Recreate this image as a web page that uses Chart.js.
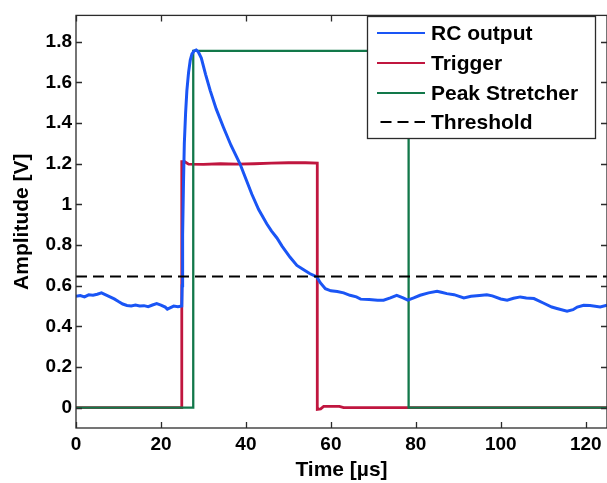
<!DOCTYPE html>
<html>
<head>
<meta charset="utf-8">
<script src="https://cdn.jsdelivr.net/npm/chart.js@4"></script>
<style>
  html, body { margin: 0; padding: 0; background: #fff; }
  #wrap { width: 607px; height: 483px; overflow: hidden; }
</style>
</head>
<body>
<div id="wrap"><canvas id="pulseChart" width="607" height="483"></canvas></div>
<script>
'use strict';

/** RC output / trigger / peak stretcher traces */

const rcTime = [0, 1, 2, 3, 4, 5, 6, 7, 8, 9, 10, 11, 12, 13, 14, 15, 16, 17, 18, 19, 20, 21, 21.5, 22, 23, 24, 24.9,
    25.0, 25.1, 25.3, 25.5, 25.8, 26.1, 26.5, 26.9, 27.3, 27.8, 28.3, 28.8,
    29.5, 30.5, 31.6, 33, 34.7, 36.5, 38.6, 40, 41.4, 43, 44.9, 46, 47.3, 48.5, 50.4, 52, 53.5, 55, 56.7, 57.5,
    58.7, 60, 61.5, 63, 64.5, 66, 67, 69, 71, 72.4, 74, 75.5, 77, 78.1, 79.5, 81, 83, 85, 86, 87.3,
    89, 91.3, 93, 95, 96.7, 98, 100, 101.5, 103, 104.6, 106, 107.8, 110, 112, 113.2, 115.6, 117, 118, 119.5, 121,
    123.4, 125];
const rcVolt = [0.548, 0.552, 0.545, 0.555, 0.553, 0.558, 0.565, 0.555, 0.545, 0.535, 0.522, 0.51, 0.503, 0.5, 0.505, 0.5, 0.502, 0.497, 0.505, 0.512, 0.505, 0.495, 0.485, 0.49, 0.5, 0.497, 0.5,
    0.6, 0.85, 1.1, 1.3, 1.45, 1.56, 1.65, 1.71, 1.74, 1.755, 1.76, 1.75,
    1.72, 1.64, 1.56, 1.47, 1.38, 1.29, 1.2, 1.125, 1.05, 0.975, 0.905, 0.87, 0.835, 0.795, 0.74, 0.7, 0.68, 0.66, 0.643, 0.615,
    0.585, 0.575, 0.572, 0.565, 0.553, 0.545, 0.534, 0.532, 0.528, 0.529, 0.54, 0.553, 0.54, 0.529, 0.54, 0.553, 0.565, 0.573, 0.568, 0.561,
    0.556, 0.54, 0.548, 0.552, 0.556, 0.55, 0.535, 0.529, 0.538, 0.545, 0.54, 0.537, 0.515, 0.495, 0.488, 0.475, 0.482, 0.495, 0.504, 0.503,
    0.496, 0.504];

const trigTime = [0, 24.9, 24.9, 25.6, 26.5, 30, 34, 38, 42, 46, 50, 54, 56.8, 56.8, 57.6, 58.3, 62, 63, 125];
const trigVolt = [0, 0, 1.21, 1.21, 1.198, 1.197, 1.2, 1.198, 1.2, 1.203, 1.205, 1.205, 1.203, -0.008, -0.006, 0.006, 0.006, 0, 0];

const peakTime = [0, 27.6, 27.6, 78.3, 78.3, 125];
const peakVolt = [0, 0, 1.755, 1.755, 0, 0];

const thresholdTime = [0, 125];
const thresholdVolt = [0.645, 0.645];

const xTicks = [0, 20, 40, 60, 80, 100, 120];
const xTickLabels = ['0', '20', '40', '60', '80', '100', '120'];
const yTicks = [0, 0.2, 0.4, 0.6, 0.8, 1, 1.2, 1.4, 1.6, 1.8];
const yTickLabels = ['0', '0.2', '0.4', '0.6', '0.8', '1', '1.2', '1.4', '1.6', '1.8'];

const seriesLabels = ['RC output', 'Trigger', 'Peak Stretcher', 'Threshold'];
const seriesColors = ['#1a55f5', '#c0163f', '#12784a', '#000000'];

const FONT = "'Liberation Sans', Arial, sans-serif";
const AXIS_COLOR = '#2b2b2b';

const toPoints = (xs, ys) => xs.map((x, i) => ({ x: x, y: ys[i] }));

const frameAndLegend = {
    id: 'frameAndLegend',
    afterDraw(chart) {
        const { ctx, chartArea: a } = chart;
        const xs = chart.scales.x;
        const ys = chart.scales.y;
        ctx.save();

        // axes box with inward ticks
        ctx.strokeStyle = AXIS_COLOR;
        ctx.lineWidth = 1.3;
        ctx.strokeRect(a.left, a.top, a.right - a.left, a.bottom - a.top);
        ctx.beginPath();
        xTicks.forEach((t) => {
            const px = Math.round(xs.getPixelForValue(t)) + 0.5;
            ctx.moveTo(px, a.bottom);
            ctx.lineTo(px, a.bottom - 6);
            ctx.moveTo(px, a.top);
            ctx.lineTo(px, a.top + 6);
        });
        yTicks.forEach((v) => {
            const py = Math.round(ys.getPixelForValue(v)) + 0.5;
            ctx.moveTo(a.left, py);
            ctx.lineTo(a.left + 6, py);
            ctx.moveTo(a.right, py);
            ctx.lineTo(a.right - 6, py);
        });
        ctx.stroke();

        // legend box
        const box = { left: 367.5, top: 16.5, right: 595.5, bottom: 138.5 };
        ctx.fillStyle = '#fff';
        ctx.fillRect(box.left, box.top, box.right - box.left, box.bottom - box.top);
        ctx.strokeRect(box.left, box.top, box.right - box.left, box.bottom - box.top);

        const rows = [33, 63, 93, 122];
        ctx.font = `bold 21px ${FONT}`;
        ctx.textBaseline = 'middle';
        ctx.textAlign = 'left';
        chart.data.datasets.forEach((ds, i) => {
            const yRow = rows[i];
            ctx.beginPath();
            ctx.strokeStyle = ds.borderColor;
            ctx.lineWidth = 2;
            if (ds.borderDash && ds.borderDash.length) {
                ctx.setLineDash(ds.borderDash);
                ctx.moveTo(380.5, yRow);
            } else {
                ctx.setLineDash([]);
                ctx.moveTo(377, yRow);
            }
            ctx.lineTo(425, yRow);
            ctx.stroke();
            ctx.setLineDash([]);
            ctx.fillStyle = '#000';
            ctx.fillText(ds.label, 431, yRow + 1);
        });

        ctx.restore();
    },
};

const pulseCtx = document.getElementById('pulseChart').getContext('2d');
const pulseChart = new Chart(pulseCtx, {
    type: 'line',
    data: {
        datasets: [
            {
                label: seriesLabels[0],
                data: toPoints(rcTime, rcVolt),
                borderColor: seriesColors[0],
                borderWidth: 3,
                order: 1,
            },
            {
                label: seriesLabels[1],
                data: toPoints(trigTime, trigVolt),
                borderColor: seriesColors[1],
                borderWidth: 2.8,
                order: 3,
            },
            {
                label: seriesLabels[2],
                data: toPoints(peakTime, peakVolt),
                borderColor: seriesColors[2],
                borderWidth: 2.3,
                order: 2,
            },
            {
                label: seriesLabels[3],
                data: toPoints(thresholdTime, thresholdVolt),
                borderColor: seriesColors[3],
                borderWidth: 2,
                borderDash: [11, 6],
                order: 0,
            },
        ],
    },
    options: {
        responsive: false,
        animation: false,
        events: [],
        layout: { padding: { top: 12, right: 0, left: 0, bottom: 0 } },
        elements: {
            point: { radius: 0 },
            line: { tension: 0, fill: false, borderJoinStyle: 'miter', borderCapStyle: 'butt' },
        },
        plugins: {
            legend: { display: false },
            tooltip: { enabled: false },
        },
        scales: {
            x: {
                type: 'linear',
                min: 0,
                max: 125,
                grid: { display: false, drawTicks: false },
                border: { display: false },
                afterBuildTicks: (scale) => { scale.ticks = xTicks.map((v) => ({ value: v })); },
                afterFit: (scale) => { scale.height = 55; },
                ticks: {
                    autoSkip: false,
                    maxRotation: 0,
                    padding: 5,
                    color: '#000',
                    font: { family: FONT, size: 19, weight: 'bold' },
                    callback: (value) => xTickLabels[xTicks.indexOf(value)],
                },
                title: {
                    display: true,
                    text: 'Time [µs]',
                    color: '#000',
                    font: { family: FONT, size: 21, weight: 'bold' },
                    padding: { top: 0, bottom: 0 },
                },
            },
            y: {
                type: 'linear',
                min: -0.1,
                max: 1.93,
                grid: { display: false, drawTicks: false },
                border: { display: false },
                afterBuildTicks: (scale) => { scale.ticks = yTicks.map((v) => ({ value: v })); },
                afterFit: (scale) => { scale.width = 76; },
                ticks: {
                    autoSkip: false,
                    padding: 4,
                    color: '#000',
                    font: { family: FONT, size: 19, weight: 'bold' },
                    callback: (value) => yTickLabels[yTicks.indexOf(value)],
                },
                title: {
                    display: true,
                    text: 'Amplitude [V]',
                    color: '#000',
                    font: { family: FONT, size: 21, weight: 'bold' },
                    padding: { top: 10, bottom: 0 },
                },
            },
        },
    },
    plugins: [frameAndLegend],
});
</script>
</body>
</html>
